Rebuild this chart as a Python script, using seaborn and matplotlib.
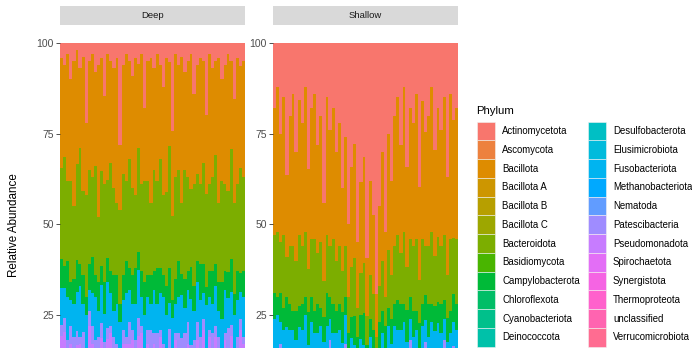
import numpy as np
import pandas as pd
import matplotlib
matplotlib.use("Agg")
import matplotlib.pyplot as plt
import seaborn as sns
from matplotlib.patches import Rectangle

# Phylum levels (legend / stacking order, first on top)
phyla = ["Actinomycetota", "Ascomycota", "Bacillota", "Bacillota A", "Bacillota B",
         "Bacillota C", "Bacteroidota", "Basidiomycota", "Campylobacterota",
         "Chloroflexota", "Cyanobacteriota", "Deinococcota", "Desulfobacterota",
         "Elusimicrobiota", "Fusobacteriota", "Methanobacteriota", "Nematoda",
         "Patescibacteria", "Pseudomonadota", "Spirochaetota", "Synergistota",
         "Thermoproteota", "unclassified", "Verrucomicrobiota"]

# Deep samples (percent)
act_deep = [4, 6, 3, 10, 5, 2, 7, 4, 22, 5, 3, 8, 6, 4, 15, 3, 5, 7, 4, 28,
            6, 3, 5, 9, 4, 6, 3, 18, 5, 4, 7, 3, 6, 12, 4, 5, 25, 3, 6, 4,
            8, 5, 3, 14, 6, 4, 5, 20, 3, 7, 5, 4, 10, 6, 3, 5, 16, 4, 6, 5]
bac_deep = [30, 25, 35, 28, 40, 32, 22, 38, 20, 30, 34, 26, 42, 30, 25, 36, 28, 33, 40, 18,
            30, 35, 27, 31, 38, 24, 36, 20, 33, 40, 28, 35, 26, 30, 37, 22, 24, 34, 29, 41,
            27, 32, 38, 25, 30, 35, 28, 22, 36, 30, 26, 40, 28, 33, 37, 24, 30, 35, 27, 32]
bact_deep = [25, 30, 22, 28, 20, 27, 32, 24, 28, 26, 22, 30, 18, 25, 28, 22, 30, 24, 20, 26,
             28, 22, 30, 24, 20, 30, 24, 28, 26, 20, 28, 24, 30, 22, 26, 32, 24, 28, 25, 20,
             30, 26, 22, 28, 24, 22, 28, 26, 24, 26, 30, 22, 28, 24, 22, 30, 26, 24, 28, 26]
campy_deep = [8, 6, 10, 5, 7, 9, 6, 8, 5, 7, 10, 6, 8, 5, 9, 7, 6, 10, 8, 5,
              7, 9, 6, 8, 10, 5, 7, 9, 6, 8, 5, 10, 7, 6, 8, 9, 5, 7, 10, 6,
              8, 5, 9, 7, 6, 10, 8, 5, 7, 9, 6, 8, 10, 5, 7, 9, 6, 8, 5, 7]
fuso_deep = [10, 8, 12, 7, 9, 11, 14, 8, 10, 6, 9, 12, 7, 10, 8, 13, 9, 7, 11, 10,
             8, 12, 9, 7, 10, 14, 8, 11, 9, 7, 12, 8, 10, 13, 9, 7, 11, 8, 10, 12,
             7, 9, 13, 8, 11, 10, 7, 12, 9, 8, 11, 7, 10, 12, 8, 9, 13, 10, 7, 11]
pat_deep = [3, 4, 2, 5, 3, 4, 2, 6, 3, 4, 5, 2, 3, 4, 6, 3, 2, 4, 5, 3,
            4, 2, 6, 3, 4, 5, 2, 3, 4, 6, 3, 5, 2, 4, 3, 6, 4, 2, 5, 3,
            4, 6, 3, 2, 5, 4, 3, 6, 2, 4, 3, 5, 4, 2, 6, 3, 4, 5, 3, 2]
pseudo_deep = [9, 12, 7, 10, 8, 11, 13, 6, 9, 12, 8, 10, 14, 7, 9, 11, 8, 12, 6, 10,
               9, 7, 11, 13, 8, 10, 12, 9, 7, 11, 10, 8, 13, 9, 12, 7, 10, 11, 8, 9,
               12, 10, 7, 11, 9, 8, 13, 10, 12, 7, 9, 11, 8, 10, 13, 9, 7, 12, 10, 8]
rest_deep = [10, 8, 9, 7, 8, 6, 4, 9, 3, 10, 9, 6, 2, 11, 3, 8, 12, 3, 6, 0,
             8, 10, 6, 5, 6, 10, 8, 2, 10, 4, 7, 7, 6, 4, 1, 7, 0, 7, 7, 7,
             4, 7, 7, 5, 9, 7, 8, 0, 7, 9, 10, 3, 2, 8, 2, 10, 2, 2, 10, 9]

# Shallow samples
act_sh = [18, 12, 25, 15, 40, 20, 14, 30, 16, 22, 12, 35, 18, 14, 28, 20, 45, 15, 24, 18,
          30, 22, 42, 26, 50, 35, 28, 55, 40, 32, 60, 38, 48, 70, 45, 30, 52, 25, 38, 20,
          15, 28, 12, 35, 18, 22, 14, 40, 16, 25, 20, 12, 30, 18, 24, 15, 38, 14, 22, 18]
bac_sh = [35, 40, 30, 38, 25, 36, 42, 30, 38, 34, 40, 28, 36, 40, 30, 35, 22, 38, 32, 36,
          30, 34, 24, 30, 20, 28, 32, 18, 26, 30, 16, 26, 22, 12, 22, 30, 18, 32, 26, 36,
          38, 30, 40, 28, 36, 34, 40, 26, 38, 32, 36, 40, 30, 36, 32, 38, 28, 40, 34, 36]
bact_sh = [16, 18, 14, 20, 12, 16, 18, 14, 20, 16, 18, 12, 16, 20, 14, 18, 10, 16, 14, 18,
           14, 16, 12, 14, 10, 14, 16, 8, 12, 14, 8, 12, 10, 6, 10, 14, 8, 16, 12, 16,
           18, 14, 20, 12, 16, 18, 20, 12, 18, 14, 16, 20, 14, 18, 16, 18, 12, 20, 16, 18]
campy_sh = [7, 5, 8, 6, 9, 7, 5, 8, 6, 7, 5, 9, 7, 6, 8, 5, 7, 9, 6, 8,
            6, 7, 9, 5, 7, 6, 8, 5, 7, 9, 6, 5, 8, 4, 7, 6, 8, 5, 7, 6,
            8, 7, 5, 9, 6, 7, 5, 8, 6, 7, 9, 5, 7, 6, 8, 5, 7, 6, 8, 7]
fuso_sh = [8, 10, 6, 9, 7, 11, 8, 6, 10, 7, 9, 8, 11, 6, 9, 7, 10, 8, 6, 9,
           7, 10, 6, 8, 5, 9, 7, 6, 8, 7, 5, 8, 6, 4, 7, 9, 6, 8, 7, 10,
           8, 11, 7, 9, 6, 10, 8, 7, 9, 6, 10, 8, 9, 7, 11, 6, 9, 8, 7, 10]
pat_sh = [3, 4, 2, 5, 3, 2, 4, 3, 5, 2, 4, 3, 2, 5, 3, 4, 2, 3, 5, 4,
          3, 2, 4, 3, 2, 3, 4, 2, 3, 4, 2, 3, 2, 2, 3, 4, 2, 3, 4, 3,
          4, 3, 5, 2, 4, 3, 4, 2, 3, 5, 3, 4, 2, 5, 3, 4, 3, 2, 4, 3]
pseudo_sh = [6, 8, 5, 7, 9, 6, 4, 8, 7, 5, 8, 6, 7, 9, 5, 8, 6, 7, 9, 6,
             7, 5, 8, 6, 4, 7, 6, 5, 8, 6, 4, 6, 5, 3, 6, 7, 5, 8, 6, 7,
             8, 6, 9, 7, 8, 5, 7, 6, 8, 9, 6, 8, 7, 9, 5, 8, 6, 7, 9, 5]
rest_sh = [7, 3, 10, 0, 5, 2, 5, 1, 0, 7, 4, 0, 3, 0, 3, 3, 0, 4, 4, 1,
           3, 4, 0, 8, 2, 0, 0, 1, 0, 0, 0, 2, 0, 0, 0, 0, 1, 3, 0, 2,
           1, 1, 2, 0, 6, 1, 2, 0, 2, 4, 0, 3, 3, 2, 1, 6, 0, 3, 4, 3]

facets = ["Deep", "Shallow"]
series = {
    "Deep": {"Actinomycetota": act_deep, "Bacillota": bac_deep, "Bacteroidota": bact_deep,
             "Campylobacterota": campy_deep, "Fusobacteriota": fuso_deep,
             "Patescibacteria": pat_deep, "Pseudomonadota": pseudo_deep,
             "Verrucomicrobiota": rest_deep},
    "Shallow": {"Actinomycetota": act_sh, "Bacillota": bac_sh, "Bacteroidota": bact_sh,
                "Campylobacterota": campy_sh, "Fusobacteriota": fuso_sh,
                "Patescibacteria": pat_sh, "Pseudomonadota": pseudo_sh,
                "Verrucomicrobiota": rest_sh},
}


def hcl_hex(h, c=100.0, l=65.0):
    # ggplot2 hue palette colour (polar Luv -> sRGB)
    hr = np.deg2rad(h)
    u, v = c * np.cos(hr), c * np.sin(hr)
    xn, yn, zn = 0.95047, 1.0, 1.08883
    un = 4 * xn / (xn + 15 * yn + 3 * zn)
    vn = 9 * yn / (xn + 15 * yn + 3 * zn)
    y = ((l + 16) / 116) ** 3
    up = u / (13 * l) + un
    vp = v / (13 * l) + vn
    x = y * 9 * up / (4 * vp)
    z = y * (12 - 3 * up - 20 * vp) / (4 * vp)
    m = np.array([[3.2404542, -1.5371385, -0.4985314],
                  [-0.9692660, 1.8760108, 0.0415560],
                  [0.0556434, -0.2040259, 1.0572252]])
    rgb = m @ np.array([x, y, z])
    rgb = np.where(rgb > 0.0031308, 1.055 * np.clip(rgb, 0, None) ** (1 / 2.4) - 0.055, 12.92 * rgb)
    return matplotlib.colors.to_hex(np.clip(rgb, 0, 1))


hues = np.linspace(15, 375, len(phyla) + 1)[:-1]
palette = {p: hcl_hex(h) for p, h in zip(phyla, hues)}

rows = []
for f in facets:
    for p, vals in series[f].items():
        for i, val in enumerate(vals):
            rows.append((f, i, p, val))
df = pd.DataFrame(rows, columns=["depth", "sample", "phylum", "value"])
df["value"] = df["value"] / df.groupby(["depth", "sample"])["value"].transform("sum") * 100

plt.rcParams["font.family"] = ["Liberation Sans", "DejaVu Sans"]

W, H = 692, 348
fig = plt.figure(figsize=(W / 100, H / 100), dpi=100)


def box(x0, y0, x1, y1):
    return [x0 / W, 1 - y1 / H, (x1 - x0) / W, (y1 - y0) / H]


panel_x = {"Deep": (60, 245), "Shallow": (273, 458)}
for f in facets:
    x0, x1 = panel_x[f]
    ax = fig.add_axes(box(x0, 43, x1, 348))
    sub = df[df["depth"] == f]
    present = [p for p in phyla if p in set(sub["phylum"])]
    # slight overlap between neighbouring bars avoids pixel seams
    sns.histplot(data=sub, x="sample", weights="value", hue="phylum",
                 hue_order=present, palette=palette, multiple="stack",
                 discrete=True, shrink=1.06, alpha=1, linewidth=0,
                 legend=False, ax=ax)
    n = sub["sample"].nunique()
    ax.set_xlim(-0.5, n - 0.5)
    ax.set_ylim(15.9, 100)
    ax.set_yticks([25, 50, 75, 100])
    ax.set_xticks([])
    ax.set_xlabel("")
    ax.set_ylabel("")
    for s in ax.spines.values():
        s.set_visible(False)
    ax.tick_params(axis="y", length=3, width=0.6, color="#333333",
                   labelcolor="#4D4D4D", labelsize=7.5, pad=1.5)
    # facet strip
    sax = fig.add_axes(box(x0, 6, x1, 25))
    sax.set_facecolor("#D9D9D9")
    sax.set_xticks([])
    sax.set_yticks([])
    for s in sax.spines.values():
        s.set_visible(False)
    sax.text(0.5, 0.5, f, ha="center", va="center", fontsize=6.8, color="#1A1A1A",
             transform=sax.transAxes)

fig.text(14 / W, 1 - 225 / H, "Relative Abundance", rotation=90, ha="center",
         va="center", fontsize=8.4, color="black")

# legend, two columns like ggplot
fig.text(476 / W, 1 - 111 / H, "Phylum", ha="left", va="center", fontsize=8.2)
key_h = 18.75
for j, p in enumerate(phyla):
    col, row = divmod(j, 12)
    kx = [477, 588][col]
    ky = 121.7 + row * key_h
    fig.patches.append(Rectangle((kx / W, 1 - (ky + key_h) / H), 18 / W, key_h / H,
                                 transform=fig.transFigure, facecolor=palette[p],
                                 edgecolor="#F2F2F2", linewidth=0.4))
    fig.text((kx + 25) / W, 1 - (ky + key_h / 2) / H, p, ha="left", va="center",
             fontsize=6.9, color="black")

fig.savefig("out.png", dpi=100)
